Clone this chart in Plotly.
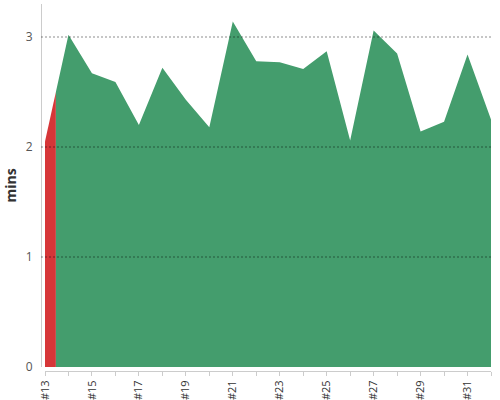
import plotly.graph_objects as go

# episode numbers on the x axis and minutes per episode
episodes = [13, 14, 15, 16, 17, 18, 19, 20, 21, 22,
            23, 24, 25, 26, 27, 28, 29, 30, 31, 32]
minutes = [2.05, 3.02, 2.67, 2.59, 2.20, 2.72, 2.43, 2.18, 3.14, 2.78,
           2.77, 2.71, 2.87, 2.06, 3.06, 2.85, 2.14, 2.23, 2.84, 2.25]
tick_labels = ["#%d" % e if i % 2 == 0 else "" for i, e in enumerate(episodes)]
y_ticks = [0, 1, 2, 3]

# first segment is coloured red until it climbs past this level
split_level = 2.5
x0, x1 = episodes[0], episodes[1]
v0, v1 = minutes[0], minutes[1]
x_split = x0 + (split_level - v0) / (v1 - v0) * (x1 - x0)

GREEN = "#449d6d"
RED = "#d63638"

fig = go.Figure()
fig.add_trace(go.Scatter(
    x=[x0, x_split], y=[v0, split_level],
    mode="lines", line=dict(width=0), fill="tozeroy",
    fillcolor=RED, hoverinfo="skip",
))
fig.add_trace(go.Scatter(
    x=[x_split] + episodes[1:], y=[split_level] + minutes[1:],
    mode="lines", line=dict(width=0), fill="tozeroy",
    fillcolor=GREEN,
))

# dashed grid drawn on top of the areas
for v in y_ticks[1:]:
    fig.add_shape(type="line", xref="paper", x0=0, x1=1, yref="y", y0=v, y1=v,
                  line=dict(color="rgba(0,0,0,0.45)", width=1, dash="2px,2px"),
                  layer="above")

fig.update_layout(
    width=500, height=400,
    margin=dict(l=41, r=9, t=4, b=29, autoexpand=False),
    plot_bgcolor="white", paper_bgcolor="white",
    showlegend=False,
    font=dict(family="Open Sans", color="#444"),
    xaxis=dict(
        domain=[4 / 450, 1], anchor="free", position=0,
        range=[episodes[0], episodes[-1]],
        tickvals=episodes, ticktext=tick_labels, tickangle=-90,
        ticks="outside", ticklen=4, tickcolor="#ccc",
        showline=True, linecolor="#ccc", linewidth=1,
        showgrid=False, zeroline=False, automargin=False,
        ticklabelstandoff=0,
        tickfont=dict(size=11, color="#333"),
    ),
    yaxis=dict(
        domain=[4 / 367, 1], anchor="free", position=0,
        range=[0, 3.3], tickvals=y_ticks,
        showline=True, linecolor="#ccc", linewidth=1,
        showgrid=False, zeroline=False, automargin=False,
        ticks="", ticklabelstandoff=6,
        tickfont=dict(size=12, color="#555"),
        title=dict(text="<b>mins</b>", font=dict(size=14, color="#333"), standoff=4),
    ),
)

fig.write_html("out.html", config={"displayModeBar": False},
               post_script="document.body.style.margin='0';")
